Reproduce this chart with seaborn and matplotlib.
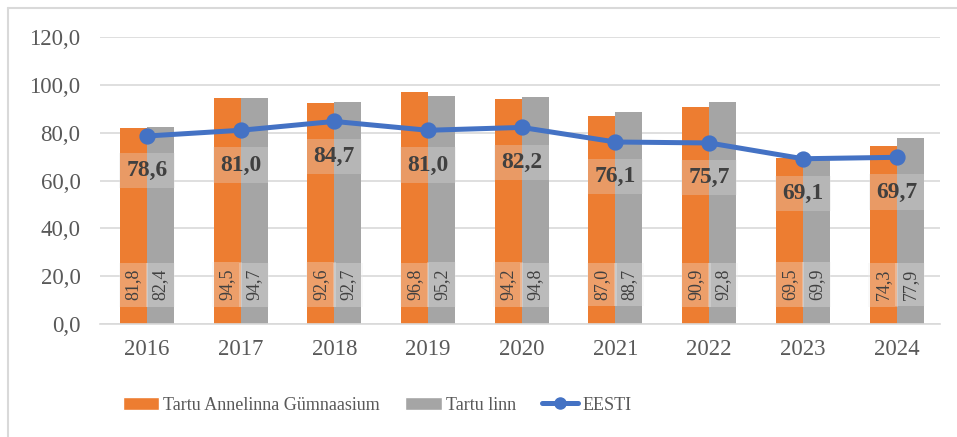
import matplotlib
matplotlib.use("Agg")
import matplotlib.pyplot as plt
import matplotlib.lines as mlines
import seaborn as sns
import pandas as pd

# chart data
years = ["2016", "2017", "2018", "2019", "2020", "2021", "2022", "2023", "2024"]
annelinna = [81.8, 94.5, 92.6, 96.8, 94.2, 87.0, 90.9, 69.5, 74.3]
tartu_linn = [82.4, 94.7, 92.7, 95.2, 94.8, 88.7, 92.8, 69.9, 77.9]
eesti = [78.6, 81.0, 84.7, 81.0, 82.2, 76.1, 75.7, 69.1, 69.7]
series_names = ["Tartu Annelinna Gümnaasium", "Tartu linn", "EESTI"]
yticks = [0, 20, 40, 60, 80, 100, 120]

orange = "#ED7D31"
grey = "#A5A5A5"
blue = "#4472C4"
text_col = "#595959"

sns.set_style("white")
plt.rcParams["font.family"] = ["Liberation Serif", "DejaVu Serif"]

df = pd.DataFrame({
    "year": years * 2,
    "value": annelinna + tartu_linn,
    "series": [series_names[0]] * len(years) + [series_names[1]] * len(years),
})

fig = plt.figure(figsize=(9.57, 4.37), dpi=100)
ax = fig.add_axes([0.1045, 0.2586, 0.8775, 0.6567])

sns.barplot(data=df, x="year", y="value", hue="series",
            palette=[orange, grey], width=0.576, gap=0,
            saturation=1, legend=False, ax=ax, zorder=2,
            edgecolor="none", linewidth=0)

sns.pointplot(x=years, y=eesti, color=blue, markers="o",
              markersize=9, linewidth=3.6, ax=ax, zorder=4)

# bar labels, rotated near the base
for cont in ax.containers:
    for bar in cont:
        x = bar.get_x() + bar.get_width() / 2
        h = bar.get_height()
        ax.text(x, 16.5, f"{h:.1f}".replace(".", ","), rotation=90,
                ha="center", va="center", fontsize=13, color="#404040",
                zorder=5,
                bbox=dict(boxstyle="square,pad=0.35", fc="#EEEEEE",
                          ec="none", alpha=0.3))

# EESTI labels below points
for i, v in enumerate(eesti):
    ax.annotate(f"{v:.1f}".replace(".", ","), (i, v), xytext=(0, -25),
                textcoords="offset points", ha="center", va="center",
                fontsize=17, fontweight="bold", color="#404040", zorder=6,
                bbox=dict(boxstyle="square,pad=0.3", fc="#E0E0E0",
                          ec="none", alpha=0.3))

ax.set_ylim(0, 120)
ax.set_xlim(-0.5, 8.46)
ax.set_yticks(yticks)
ax.set_yticklabels([f"{t:.1f}".replace(".", ",") for t in yticks])
ax.yaxis.grid(True, color="#D9D9D9", linewidth=1.2, zorder=0)
ax.set_axisbelow(True)
for s in ["top", "right", "left"]:
    ax.spines[s].set_visible(False)
ax.spines["bottom"].set_color("#D9D9D9")
ax.spines["bottom"].set_linewidth(1.2)
ax.tick_params(axis="both", length=0, labelsize=16.5, labelcolor=text_col)
ax.tick_params(axis="x", pad=11)
ax.tick_params(axis="y", pad=14)
ax.set_xlabel("")
ax.set_ylabel("")

# legend
handles = [
    plt.Rectangle((0, 0), 1, 1, fc=orange),
    plt.Rectangle((0, 0), 1, 1, fc=grey),
    mlines.Line2D([], [], color=blue, lw=3.6, marker="o", markersize=8),
]
fig.legend(handles, series_names, loc="center", bbox_to_anchor=(0.394, 0.073),
           ncol=3, frameon=False, fontsize=13, handlelength=2.0,
           handleheight=0.7, handletextpad=0.25, columnspacing=1.4,
           labelcolor=text_col)

# outer frame (left and top edges)
fig.add_artist(mlines.Line2D([0.0085, 0.0085], [0.0, 0.982], color="#D9D9D9", lw=1.5))
fig.add_artist(mlines.Line2D([0.0085, 1.0], [0.982, 0.982], color="#D9D9D9", lw=1.5))

fig.savefig("out.png", dpi=100)
